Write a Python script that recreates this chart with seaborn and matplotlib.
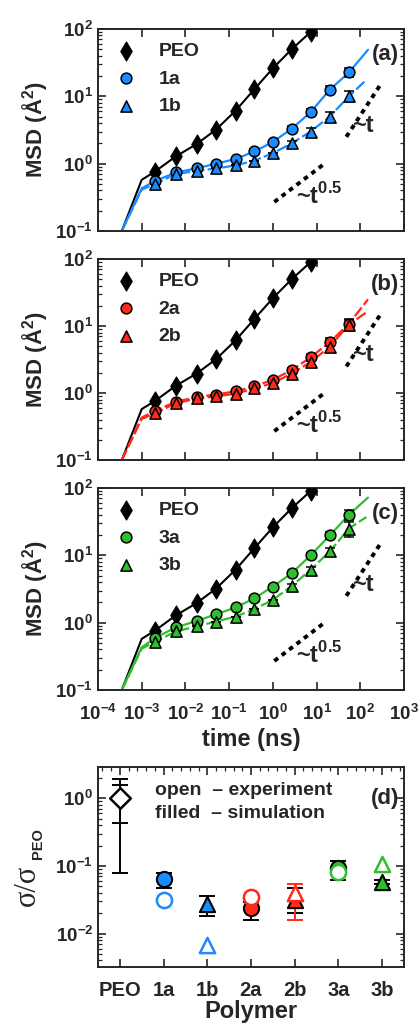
import numpy as np
import pandas as pd
import matplotlib
matplotlib.use('Agg')
import matplotlib.pyplot as plt
import seaborn as sns

# ---- MSD data (panels a-c) ----
t_pts = [2e-3, 6e-3, 1.8e-2, 5e-2, 0.14, 0.38, 1.0, 2.7, 7.3, 20, 55]
msd_peo = [0.76, 1.28, 1.95, 3.2, 6.1, 12.8, 26, 50, 90]
msd_1a = [0.55, 0.74, 0.85, 1.0, 1.17, 1.52, 2.1, 3.3, 5.8, 12.5, 22.6]
msd_1b = [0.50, 0.70, 0.78, 0.85, 0.94, 1.11, 1.43, 2.0, 3.0, 5.0, 10]
msd_2a = [0.54, 0.74, 0.87, 0.95, 1.06, 1.26, 1.58, 2.2, 3.4, 5.75, 10.8]
msd_2b = [0.50, 0.70, 0.83, 0.89, 0.98, 1.17, 1.41, 1.95, 2.9, 4.9, 10.5]
msd_3a = [0.59, 0.85, 1.06, 1.33, 1.68, 2.3, 3.44, 5.4, 10, 19.7, 40]
msd_3b = [0.52, 0.74, 0.88, 1.04, 1.23, 1.59, 2.18, 3.5, 6.1, 11.4, 25]
err_1a = [0, 0, 0, 0, 0, 0, 0, 0.3, 0.7, 1.8, 3.5]
err_1b = [0, 0, 0, 0, 0, 0, 0, 0.2, 0.4, 0.8, 1.8]
err_2a = [0, 0, 0, 0, 0, 0, 0, 0.2, 0.4, 0.8, 2.0]
err_2b = [0, 0, 0, 0, 0, 0, 0, 0.2, 0.4, 0.8, 2.0]
err_3a = [0, 0, 0, 0, 0, 0, 0, 0.4, 1.0, 2.5, 7.0]
err_3b = [0, 0, 0, 0, 0, 0, 0, 0.3, 0.6, 1.5, 6.0]

# simulation curves: early ballistic part + tail beyond last marker
curve_head_t = [3.5e-4, 1e-3]
head_peo = [0.1, 0.575]
head_1a, tail_1a = [0.1, 0.43], (150, 49)
head_1b, tail_1b = [0.1, 0.41], (138, 17.6)
head_2a, tail_2a = [0.1, 0.43], (150, 25)
head_2b, tail_2b = [0.1, 0.41], (138, 16)
head_3a, tail_3a = [0.1, 0.43], (150, 72)
head_3b, tail_3b = [0.1, 0.41], (138, 37)

# slope guides
slope05_t, slope05_y = [1.08, 15.5], [0.27, 1.01]
slope1_t, slope1_y = [48, 305], [2.5, 15.7]

# ---- conductivity ratio data (panel d) ----
polymers = ['PEO', '1a', '1b', '2a', '2b', '3a', '3b']
exp_ratio = [1.0, 0.031, 0.0068, 0.035, 0.040, 0.082, 0.108]
sim_ratio = [np.nan, 0.064, 0.027, 0.0235, 0.031, 0.092, 0.058]
sim_lo = [0.08, 0.048, 0.018, 0.0158, 0.020, 0.063, 0.054]
sim_hi = [1.92, 0.080, 0.0356, 0.029, 0.0465, 0.119, 0.063]
peo_exp_lo, peo_exp_hi = 0.43, 1.57
exp2b_lo, exp2b_hi = 0.0158, 0.055

blue, red, green = '#1a8cff', '#ff2a1a', '#2ebf2e'
poly_colors = ['black', blue, blue, red, red, green, green]
poly_markers = ['D', 'o', '^', 'o', '^', 'o', '^']

sns.set_style('ticks')
plt.rcParams['font.family'] = ['Liberation Sans', 'DejaVu Sans']
plt.rcParams['font.weight'] = 'bold'
plt.rcParams['axes.labelweight'] = 'bold'
plt.rcParams['axes.linewidth'] = 1.4

fig = plt.figure(figsize=(4.2, 10.23), dpi=100)
ax_a = fig.add_axes([0.2333, 0.7742, 0.7286, 0.1975])
ax_b = fig.add_axes([0.2333, 0.5503, 0.7286, 0.1965])
ax_c = fig.add_axes([0.2333, 0.3255, 0.7286, 0.1975])
ax_d = fig.add_axes([0.2333, 0.0547, 0.7286, 0.1955])

DASH = (0, (5, 1.5))


def style_ticks(ax):
    ax.tick_params(which='both', direction='in', top=True, right=True, labelsize=13.5)
    ax.tick_params(which='major', length=6, width=1.2)
    ax.tick_params(which='minor', length=3, width=0.9)


def msd_panel(ax, tag, color, lab_a, lab_b, va, vb, ea, eb, ha_, ta, hb, tb,
              dash_a, show_x):
    ax.set_xscale('log')
    ax.set_yscale('log')
    # simulation curves
    sns.lineplot(x=curve_head_t + t_pts[:9], y=head_peo + msd_peo, ax=ax,
                 color='black', lw=1.5, sort=False, estimator=None)
    sns.lineplot(x=curve_head_t + t_pts + [ta[0]], y=ha_ + va + [ta[1]], ax=ax,
                 color=color, lw=1.6, sort=False, estimator=None)
    if dash_a:
        ax.lines[-1].set_linestyle(DASH)
    sns.lineplot(x=curve_head_t + t_pts + [tb[0]], y=hb + vb + [tb[1]], ax=ax,
                 color=color, lw=1.6, sort=False, estimator=None)
    ax.lines[-1].set_linestyle(DASH)
    # error bars
    ax.errorbar(t_pts, va, yerr=ea, fmt='none', ecolor='black', elinewidth=1.1,
                capsize=3.5, capthick=1.1, zorder=2.5)
    ax.errorbar(t_pts, vb, yerr=eb, fmt='none', ecolor='black', elinewidth=1.1,
                capsize=3.5, capthick=1.1, zorder=2.5)
    # markers
    sns.scatterplot(x=t_pts[:9], y=msd_peo, ax=ax, marker='d', color='black',
                    edgecolor='black', s=95, zorder=3, label='PEO')
    sns.scatterplot(x=t_pts, y=va, ax=ax, marker='o', color=color,
                    edgecolor='black', linewidth=1.1, s=60, zorder=3, label=lab_a)
    sns.scatterplot(x=t_pts, y=vb, ax=ax, marker='^', color=color,
                    edgecolor='black', linewidth=1.1, s=65, zorder=3.1, label=lab_b)
    # slope guides
    ax.plot(slope05_t, slope05_y, color='black', lw=2.8, ls=(0, (1.2, 1.2)))
    ax.plot(slope1_t, slope1_y, color='black', lw=2.8, ls=(0, (1.2, 1.2)))
    ax.text(3.3, 0.25, '~t$^{\\mathdefault{0.5}}$', fontsize=17, fontweight='bold',
            ha='left', va='baseline')
    ax.text(66, 3.0, '~t', fontsize=17, fontweight='bold',
            ha='left', va='baseline')
    ax.text(0.985, 0.875, tag, transform=ax.transAxes, fontsize=16,
            fontweight='bold', ha='right', va='center')
    ax.set_xlim(1e-4, 1e3)
    ax.set_ylim(1e-1, 1e2)
    ax.set_xticks([10.0 ** k for k in range(-4, 4)])
    ax.set_yticks([1e-1, 1, 10, 100])
    style_ticks(ax)
    ax.set_ylabel('MSD (Å$^\\mathdefault{2}$)', fontsize=16, labelpad=4)
    if show_x:
        ax.tick_params(axis='x', pad=10)
        ax.set_xlabel('time (ns)', fontsize=17, labelpad=3)
    else:
        ax.tick_params(axis='x', labelbottom=False)
        ax.set_xlabel('')
    ax.legend(loc='upper left', frameon=False, fontsize=14, handlelength=1.5,
              handletextpad=0.9, labelspacing=0.5, borderaxespad=0.3,
              scatterpoints=1)


msd_panel(ax_a, '(a)', blue, '1a', '1b', msd_1a, msd_1b, err_1a, err_1b,
          head_1a, tail_1a, head_1b, tail_1b, False, False)
msd_panel(ax_b, '(b)', red, '2a', '2b', msd_2a, msd_2b, err_2a, err_2b,
          head_2a, tail_2a, head_2b, tail_2b, True, False)
msd_panel(ax_c, '(c)', green, '3a', '3b', msd_3a, msd_3b, err_3a, err_3b,
          head_3a, tail_3a, head_3b, tail_3b, False, True)

# ---- panel d ----
ax = ax_d
ax.set_yscale('log')
xpos = np.arange(len(polymers))
sim = np.array(sim_ratio)
lo = np.array(sim_lo)
hi = np.array(sim_hi)
mid = np.where(np.isnan(sim), 1.0, sim)
ax.errorbar(xpos, mid, yerr=[mid - lo, hi - mid], fmt='none', ecolor='black',
            elinewidth=1.4, capsize=5.5, capthick=1.4, zorder=2)
ax.errorbar([0], [1.0], yerr=[[1.0 - peo_exp_lo], [peo_exp_hi - 1.0]], fmt='none',
            ecolor='black', elinewidth=1.4, capsize=5.5, capthick=1.4, zorder=2)
ax.errorbar([4], [0.031], yerr=[[0.031 - exp2b_lo], [exp2b_hi - 0.031]], fmt='none',
            ecolor=red, elinewidth=1.4, capsize=5.5, capthick=1.4, zorder=2.2)
df_d = pd.DataFrame({'x': xpos, 'sim': sim_ratio, 'exp': exp_ratio,
                     'c': poly_colors, 'm': poly_markers})
for _, r in df_d.iterrows():
    if not np.isnan(r['sim']):
        sns.scatterplot(x=[r['x']], y=[r['sim']], ax=ax, marker=r['m'], color=r['c'],
                        edgecolor='black', linewidth=1.5, s=120, zorder=3)
for _, r in df_d.iterrows():
    sns.scatterplot(x=[r['x']], y=[r['exp']], ax=ax, marker=r['m'], color='white',
                    edgecolor=r['c'], linewidth=1.8, s=120 if r['m'] != 'D' else 110,
                    zorder=4)
ax.set_xlim(-0.5, 6.5)
ax.set_ylim(3.2e-3, 2.9)
ax.set_xticks(xpos)
ax.set_xticklabels(polymers)
ax.set_yticks([1e-2, 1e-1, 1])
ax.minorticks_on()
ax.tick_params(axis='x', which='minor', bottom=False, top=False)
style_ticks(ax)
ax.tick_params(axis='x', labelsize=14.5, pad=10)
ax.text(0.186, 0.885, 'open  – experiment', transform=ax.transAxes, fontsize=14,
        fontweight='bold', ha='left', va='center')
ax.text(0.186, 0.77, 'filled  – simulation', transform=ax.transAxes, fontsize=14,
        fontweight='bold', ha='left', va='center')
ax.text(0.985, 0.845, '(d)', transform=ax.transAxes, fontsize=16,
        fontweight='bold', ha='right', va='center')
ax.set_xlabel('Polymer', fontsize=17, labelpad=0)
ax.set_ylabel('')
# y label: serif sigma ratio with bold sans subscript
ax.text(-0.232, 0.41, 'σ/σ', transform=ax.transAxes, rotation=90,
        fontsize=22, fontweight='normal', family='Liberation Serif',
        ha='center', va='center', clip_on=False)
ax.text(-0.195, 0.615, 'PEO', transform=ax.transAxes, rotation=90,
        fontsize=10.5, fontweight='bold', ha='center', va='center', clip_on=False)

fig.savefig('out.png', dpi=100)
